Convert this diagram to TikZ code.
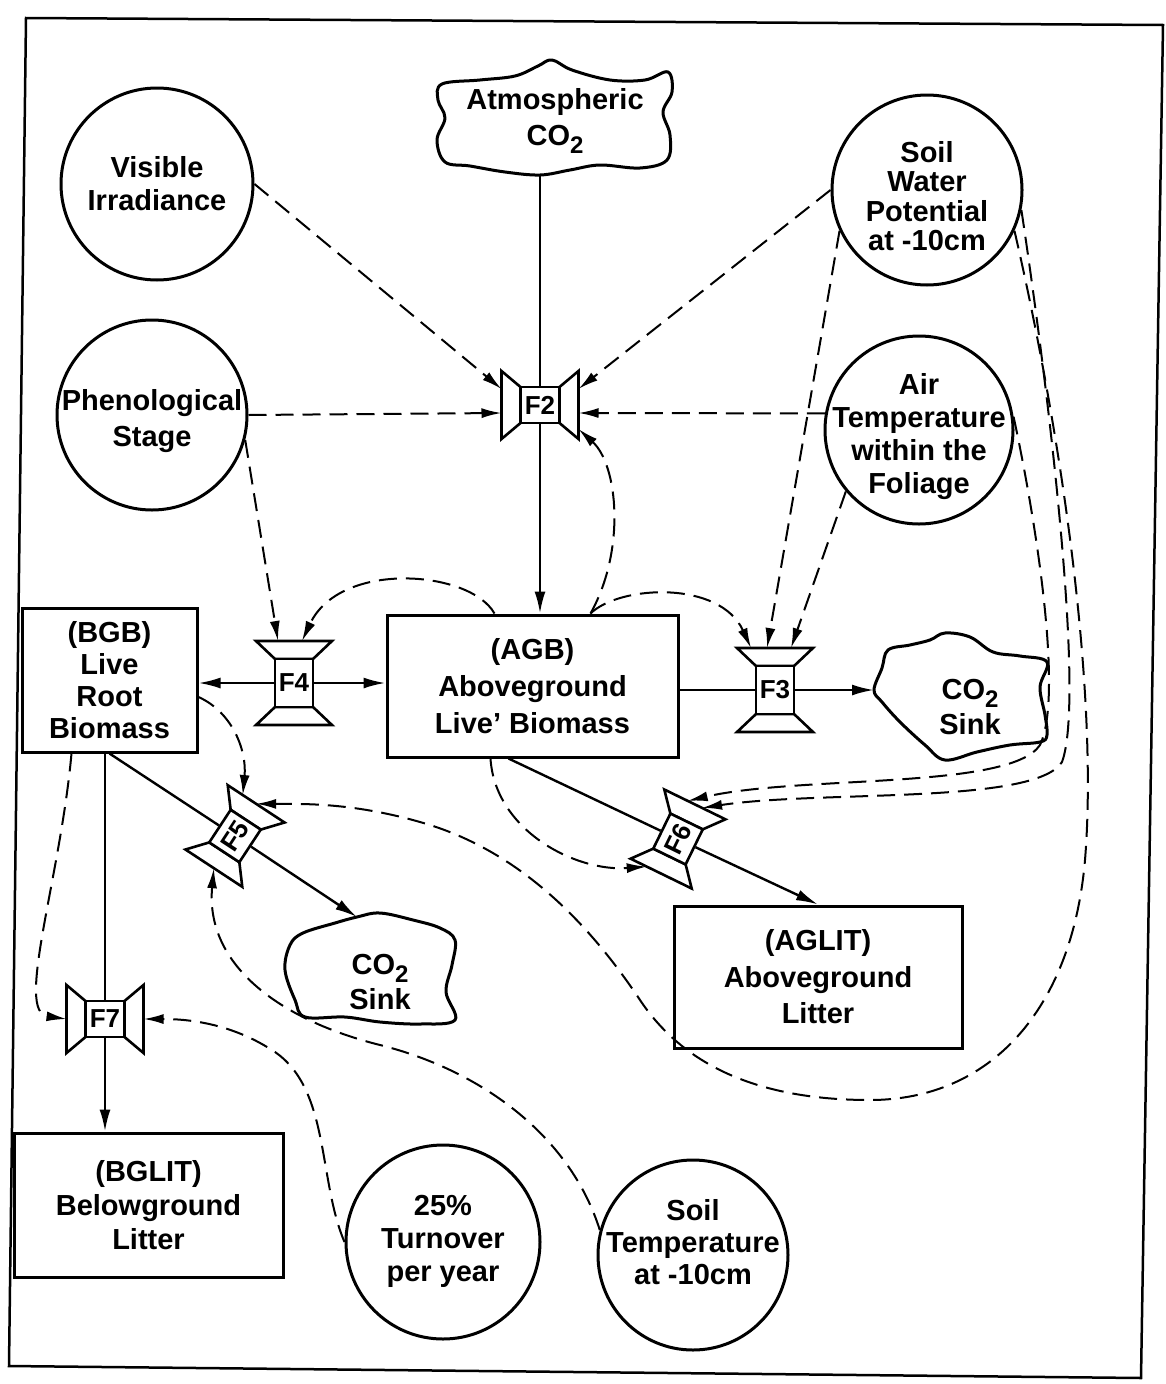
\documentclass[tikz,border=0pt]{standalone}
\usepackage{fontspec}
\setmainfont{Liberation Sans}
\usetikzlibrary{arrows.meta,calc}

\newcommand\two{\raisebox{-8pt}{\fontsize{24}{24}\selectfont 2}}

\newcommand\valveV[5]{%
 \begin{scope}[shift={(#2,#3)},rotate=#4]
  \draw[valve] (-19.5,-18) -- (-38.5,-34) -- (-38.5,34) -- (-19.5,18) -- cycle;
  \draw[valve] (19.5,-18) -- (38.5,-34) -- (38.5,34) -- (19.5,18) -- cycle;
  \node[vbox,transform shape] (#1) at (0,0) {#5};
  \foreach \vv/\nn in {-24/a,-16/b,-8/c,0/d,8/e,16/f,24/g}{
   \coordinate (#1l\nn) at (-38.5,\vv);
   \coordinate (#1r\nn) at (38.5,\vv);}
 \end{scope}}

\newcommand\valveH[4]{%
 \begin{scope}[shift={(#2,#3)}]
  \draw[valve] (-19,-24) -- (-38,-42) -- (38,-42) -- (19,-24) -- cycle;
  \draw[valve] (-19,24) -- (-38,42) -- (38,42) -- (19,24) -- cycle;
  \node[hbox] (#1) at (0,0) {#4};
  \foreach \vv/\nn in {-24/a,-16/b,-8/c,0/d,8/e,16/f,24/g}{
   \coordinate (#1t\nn) at (\vv,-42);
   \coordinate (#1b\nn) at (\vv,42);}
 \end{scope}}

\tikzset{
 lbl/.style={font=\fontsize{29}{33}\selectfont\bfseries, align=center, inner sep=0pt},
 pool/.style={draw, line width=3pt, rectangle, lbl, inner sep=0pt},
 src/.style={draw, circle, line width=3pt, inner sep=0pt},
 valve/.style={draw, line width=2.6pt, fill=white, line join=miter},
 vbox/.style={draw, line width=2.6pt, fill=white, rectangle, minimum width=39pt,
   minimum height=36pt, inner sep=0pt, font=\fontsize{26}{26}\selectfont\bfseries},
 hbox/.style={vbox, minimum width=38pt, minimum height=48pt},
 pipe/.style={line width=2.4pt},
 flow/.style={line width=2.4pt, -{Latex[length=22pt,width=11pt]}},
 dep/.style={line width=2pt, dash pattern=on 18pt off 9pt, -{Latex[length=20pt,width=10pt]}},
 cloudline/.style={line width=3pt, line join=round},
 frame/.style={line width=2.5pt}
}

\begin{document}
\begin{tikzpicture}[x=1pt,y=-1pt]
\fill[white] (0,0) rectangle (1166,1384);
\useasboundingbox (0,0) rectangle (1166,1384);
\draw[frame] (26,18) -- (1163,25) -- (1141,1378) -- (9,1366) -- cycle;

% sources (circles)
\node[src, minimum size=192pt] (VI) at (157,184) {};
\node[lbl] (VIt) at (157,184) {Visible\\Irradiance};
\node[src, minimum size=190pt] (Phen) at (152,415) {};
\node[lbl, font=\fontsize{29}{36}\selectfont\bfseries] (Phent) at (152,421) {Phenological\\Stage};
\node[src, minimum size=190pt] (SWP) at (927,190) {};
\node[lbl, font=\fontsize{29}{29.5}\selectfont\bfseries] (SWPt) at (927,196) {Soil\\Water\\Potential\\at -10cm};
\node[src, minimum size=188pt] (Air) at (919,430) {};
\node[lbl] (Airt) at (919,437) {Air\\Temperature\\within the\\Foliage};
\node[src, minimum size=194pt] (TO) at (443,1242) {};
\node[lbl] (TOt) at (443,1241) {25\%\\Turnover\\per year};
\node[src, minimum size=190pt] (ST) at (693,1255) {};
\node[lbl, font=\fontsize{29}{32}\selectfont\bfseries] (STt) at (693,1242) {Soil\\Temperature\\at -10cm};

% pools
\node[pool, minimum width=175pt, minimum height=144pt, font=\fontsize{29}{32}\selectfont\bfseries] (BGB) at (109.5,680) {(BGB)\\Live\\Root\\Biomass};
\node[pool, minimum width=291pt, minimum height=142pt, font=\fontsize{29}{37}\selectfont\bfseries] (AGB) at (532.5,686) {(AGB)\\Aboveground\\Live' Biomass};
\node[pool, minimum width=288pt, minimum height=142pt, font=\fontsize{29}{36.5}\selectfont\bfseries] (AGLIT) at (818,977) {(AGLIT)\\Aboveground\\Litter};
\node[pool, minimum width=269pt, minimum height=144pt, font=\fontsize{29}{34}\selectfont\bfseries] (BGLIT) at (148.5,1205) {(BGLIT)\\Belowground\\Litter};

% clouds
\draw[cloudline] plot[smooth cycle, tension=0.6] coordinates {(442,84) (480,80) (515,76) (538,66) (552,60) (572,70) (610,80) (645,80) (668,72) (672,92) (663,112) (670,135) (667,160) (640,168) (600,165) (570,170) (540,175) (505,172) (470,166) (445,162) (437,140) (445,118) (438,100)};
\node[lbl] (atm) at (555,121) {Atmospheric\\[3pt]CO\two};
\coordinate (atmB) at (540,174);

\draw[cloudline] plot[smooth cycle, tension=0.6] coordinates {(874,690) (882,668) (888,650) (910,645) (930,640) (945,633) (970,637) (993,652) (1020,656) (1047,662) (1040,687) (1045,715) (1047,735) (1040,742) (1010,745) (977,752) (945,760) (925,745) (900,722) (882,702)};
\node[lbl] (sinkA) at (970,707) {CO\two\\[2pt]Sink};
\coordinate (sinkAin) at (874,690);

\draw[cloudline] plot[smooth cycle, tension=0.6] coordinates {(357,917) (380,913) (413,920) (440,928) (455,940) (452,965) (446,992) (455,1020) (420,1024) (380,1022) (345,1017) (305,1017) (295,1000) (285,970) (290,945) (303,933) (335,923)};
\node[lbl] (sinkB) at (380,982) {CO\two\\[2pt]Sink};
\coordinate (sinkBin) at (357,917);

% valves
\valveV{F2}{540}{405}{0}{F2}
\valveH{F4}{294}{683}{F4}
\valveH{F3}{775}{690}{F3}
\valveV{F5}{235}{836}{56.7}{F5}
\valveV{F6}{678}{839}{64}{F6}
\valveV{F7}{105}{1019}{0}{F7}

% material flows
\draw[pipe] (atmB) -- (F2);
\draw[flow] (F2) -- (AGB.north -| F2);
\draw[flow] (F4) -- (BGB.east |- F4);
\draw[flow] (F4) -- (AGB.west |- F4);
\draw[pipe] (AGB.east |- F3) -- (F3);
\draw[flow] (F3) -- (sinkAin);
\draw[pipe] (BGB.south) -- (F5);
\draw[flow] (F5) -- (sinkBin);
\draw[pipe] ([xshift=-24pt]AGB.south) -- (F6);
\draw[flow] (F6) -- (AGLIT.north);
\draw[pipe] (BGB.south -| F7) -- (F7);
\draw[flow] (F7) -- (BGLIT.north -| F7);

% information links
\draw[dep] (VI.east) -- (F2lb);
\draw[dep] (Phen.east) -- (F2le);
\draw[dep] (Phen.-15) -- (F4tb);
\draw[dep] (SWP.west) -- (F2rb);
\draw[dep] (Air.170) -- (F2re);
\draw[dep] ([xshift=58pt]AGB.north) .. controls (626,550) and (618,465) .. (F2rg);
\draw[dep] ([xshift=-38pt]AGB.north) .. controls (470,570) and (340,560) .. (F4te);
\draw[dep] ([xshift=58pt]AGB.north) .. controls (620,585) and (720,580) .. (F3ta);
\draw[dep] (SWP.205) -- (F3tc);
\draw[dep] (Air.220) -- (F3tf);
\draw[dep] ([yshift=-17pt]BGB.east) .. controls (232,712) and (247,750) .. (F5rb);
\draw[dep] ([xshift=-42pt]AGB.south) .. controls (495,830) and (575,872) .. (F6lb);
\draw[dep] (Air.8) .. controls (1040,540) and (1062,700) .. (1040,745) .. controls (1010,790) and (800,775) .. (F6rc);
\draw[dep] (SWP.-12) .. controls (1050,400) and (1085,700) .. (1062,762) .. controls (1035,805) and (820,790) .. (F6re);
\draw[dep] (SWP.-25) .. controls (1065,450) and (1098,700) .. (1085,860) .. controls (1072,1010) and (990,1100) .. (870,1100) .. controls (750,1100) and (680,1060) .. (640,1000) .. controls (590,925) and (520,850) .. (420,822) .. controls (350,802) and (300,804) .. (F5rd);
\draw[dep] (ST.165) .. controls (570,1135) and (480,1070) .. (380,1045) .. controls (280,1020) and (205,965) .. (F5ld);
\draw[dep] (TO.west) .. controls (318,1180) and (330,1090) .. (275,1052) .. controls (230,1022) and (185,1019) .. (F7rd);
\draw[dep] ([xshift=-38pt]BGB.south) .. controls (60,880) and (15,1012) .. (F7ld);
\end{tikzpicture}
\end{document}
